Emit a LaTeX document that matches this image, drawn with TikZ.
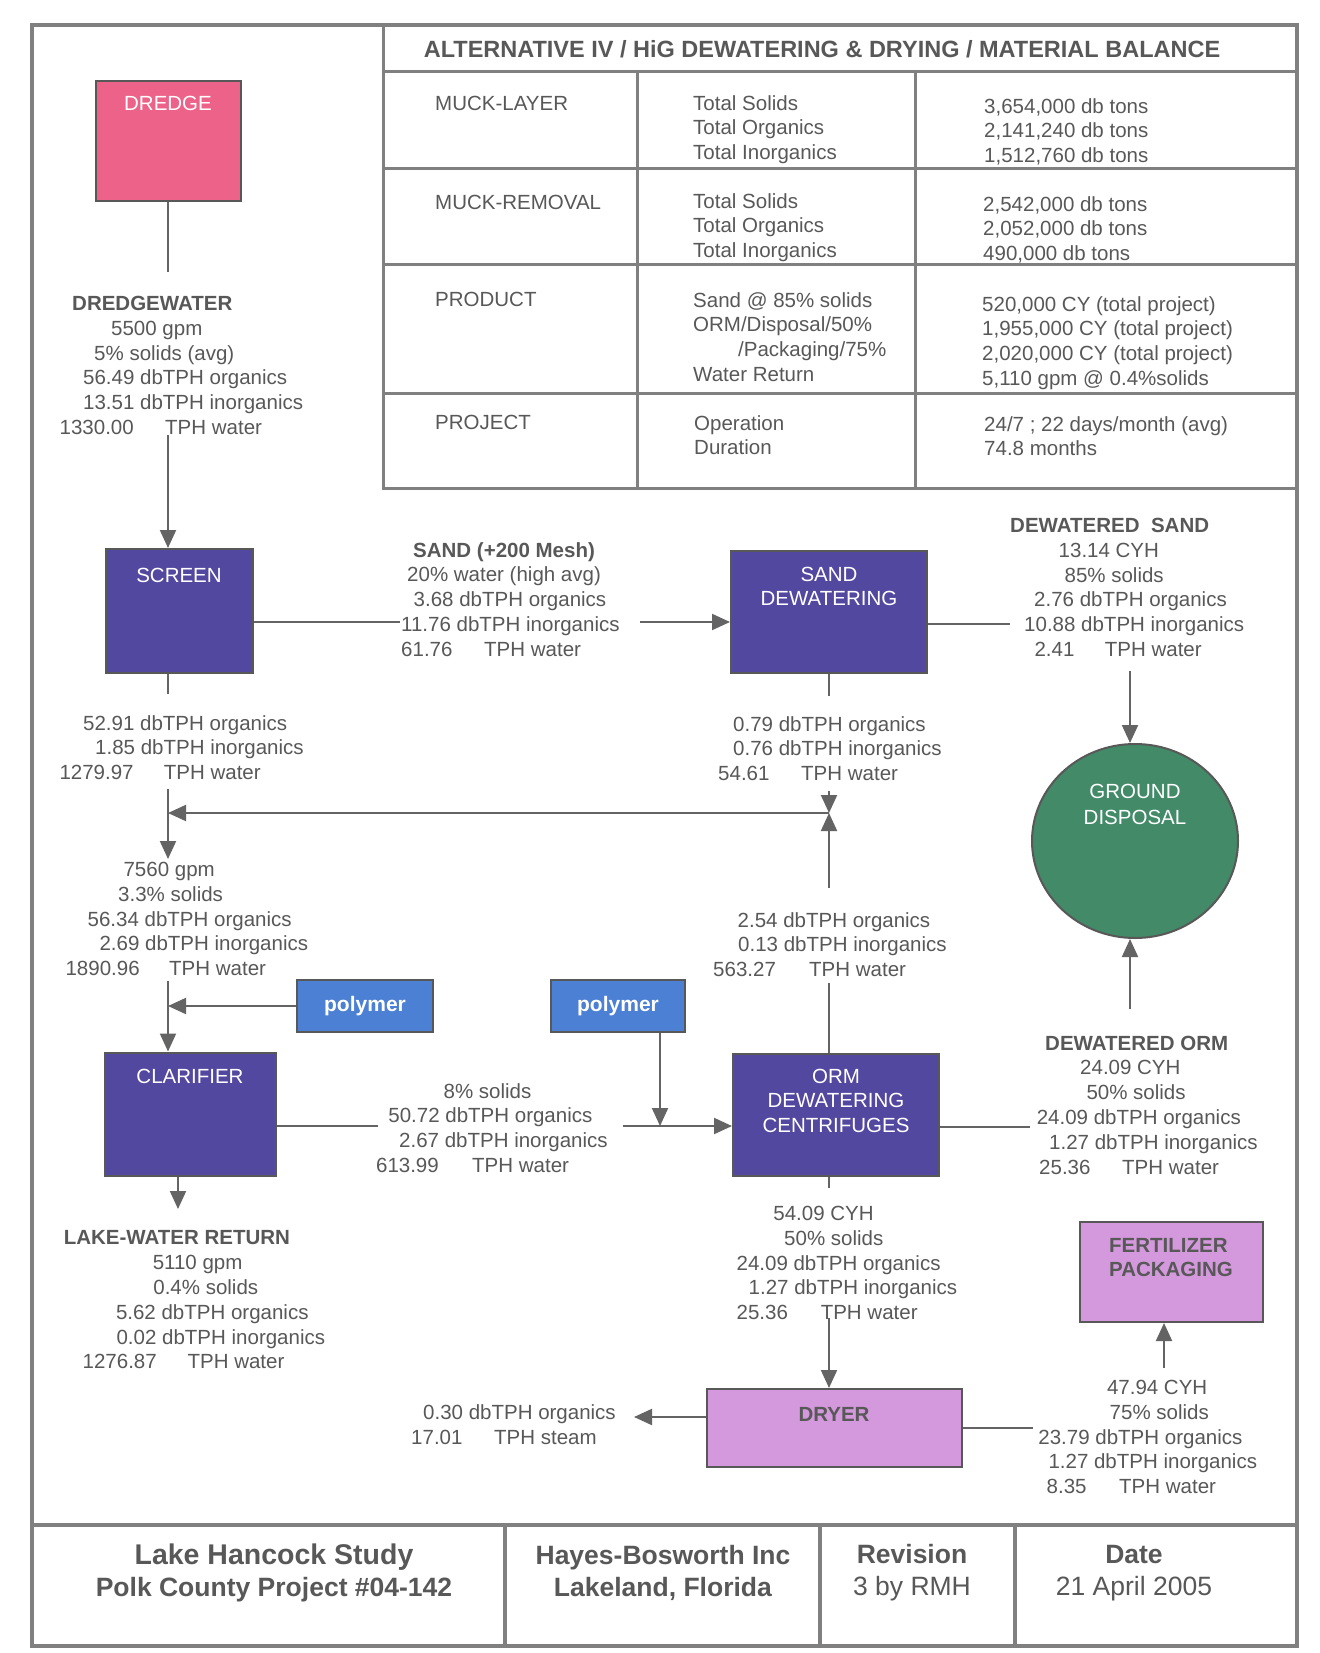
\documentclass[tikz,border=0pt]{standalone}
\usepackage{fontspec}
\setmainfont{Liberation Sans}
\usetikzlibrary{positioning,shapes.geometric,arrows.meta}

\definecolor{ink}{RGB}{88,88,88}
\definecolor{wire}{RGB}{100,100,100}
\definecolor{rulegray}{RGB}{128,128,128}
\definecolor{dredgepink}{RGB}{236,98,136}
\definecolor{procblue}{RGB}{82,72,160}
\definecolor{polyblue}{RGB}{76,128,212}
\definecolor{groundgreen}{RGB}{66,138,104}
\definecolor{dryerlilac}{RGB}{212,152,220}

\tikzset{
  frameline/.style={draw=rulegray, line width=4pt},
  tableline/.style={draw=rulegray, line width=3pt},
  flowline/.style={draw=wire, line width=2pt},
  unitbox/.style={draw=ink, line width=2pt, fill=#1, inner sep=0pt},
  unitlabel/.style={text=white, font=\fontsize{20.5}{24.5}\selectfont, align=center, inner sep=0pt},
  darklabel/.style={text=ink, font=\bfseries\fontsize{20.5}{24.5}\selectfont, align=left, inner sep=0pt},
  flowtext/.style={text=ink, font=\fontsize{20.5}{24.8}\selectfont, align=left, inner sep=0pt, anchor=north west},
  celltext/.style={text=ink, font=\fontsize{20.5}{24.8}\selectfont, inner sep=0pt, anchor=west},
  foottext/.style={text=ink, font=\fontsize{26.5}{32}\selectfont, align=center, inner sep=0pt},
}

\begin{document}
\begin{tikzpicture}[x=1pt, y=-1pt, >={Triangle[length=18pt,width=16pt]}]
\useasboundingbox (0,0) rectangle (1319,1653);
\fill[white] (0,0) rectangle (1319,1653);

% sheet frame and title block
\draw[frameline] (32,25) rectangle (1297,1646);
\draw[frameline] (32,1525) -- (1297,1525);
\draw[frameline] (505,1525) -- (505,1646);
\draw[frameline] (820,1525) -- (820,1646);
\draw[frameline] (1015,1525) -- (1015,1646);

\node[foottext] (study) at (274,1573) {\textbf{\fontsize{28.5}{32}\selectfont Lake Hancock Study}\\\textbf{Polk County Project \#04-142}};
\node[foottext] (firm)  at (663,1573) {\textbf{Hayes-Bosworth Inc}\\\textbf{Lakeland, Florida}};
\node[foottext] (rev)   at (912,1573) {\textbf{Revision}\\3 by RMH};
\node[foottext] (date)  at (1134,1573) {\textbf{Date}\\21 April 2005};

% material balance table
\draw[tableline] (383,25) -- (383,488) -- (1297,488);
\draw[tableline] (383,72) -- (1297,72);
\draw[tableline] (383,169) -- (1297,169);
\draw[tableline] (383,264.5) -- (1297,264.5);
\draw[tableline] (383,393) -- (1297,393);
\draw[tableline] (637,72) -- (637,488);
\draw[tableline] (915,72) -- (915,488);

\node[text=ink, font=\bfseries\fontsize{23.5}{28}\selectfont, inner sep=0pt] (tabtitle) at (822,49) {ALTERNATIVE IV / HiG DEWATERING \& DRYING / MATERIAL BALANCE};

\node[celltext] (mucklayer) at (435,103) {MUCK-LAYER};
\node[flowtext] (mucklayertot) at (693,95) {Total Solids\\Total Organics\\Total Inorganics};
\node[flowtext] (mucklayerval) at (984,98) {3,654,000 db tons\\2,141,240 db tons\\1,512,760 db tons};

\node[celltext] (muckremoval) at (435,202) {MUCK-REMOVAL};
\node[flowtext] (muckremovaltot) at (693,193) {Total Solids\\Total Organics\\Total Inorganics};
\node[flowtext] (muckremovalval) at (983,196) {2,542,000 db tons\\2,052,000 db tons\\490,000 db tons};

\node[celltext] (product) at (435,299) {PRODUCT};
\node[flowtext] (producttot) at (693,292) {Sand @ 85\% solids\\ORM/Disposal/50\%\\\hspace*{45pt}/Packaging/75\%\\Water Return};
\node[flowtext] (productval) at (982,296) {520,000 CY (total project)\\1,955,000 CY (total project)\\2,020,000 CY (total project)\\5,110 gpm @ 0.4\%solids};

\node[celltext] (project) at (435,422) {PROJECT};
\node[flowtext] (projecttot) at (694,415) {Operation\\Duration};
\node[flowtext] (projectval) at (984,416) {24/7 ; 22 days/month (avg)\\74.8 months};

% process units
\node[unitbox=dredgepink, minimum width=145pt, minimum height=120pt] (dredge) at (168,141) {};
\node[unitlabel, below=15.6pt of dredge.north] (dredgelbl) {DREDGE};

\node[unitbox=procblue, minimum width=147pt, minimum height=124pt] (screen) at (179,611) {};
\node[unitlabel, below=19.6pt of screen.north] (screenlbl) {SCREEN};

\node[unitbox=procblue, minimum width=196pt, minimum height=122pt] (sanddew) at (829,612) {};
\node[unitlabel, below=16.6pt of sanddew.north] (sanddewlbl) {SAND\\DEWATERING};

\node[unitbox=groundgreen, ellipse, minimum width=206pt, minimum height=194pt] (ground) at (1135,841) {};
\node[unitlabel, font=\fontsize{20.5}{26}\selectfont, below=40.6pt of ground.north] (groundlbl) {GROUND\\DISPOSAL};

\node[unitbox=polyblue, minimum width=136pt, minimum height=52pt, text=white, font=\bfseries\fontsize{21}{25}\selectfont] (poly1) at (365,1006) {polymer};
\node[unitbox=polyblue, minimum width=134pt, minimum height=52pt, text=white, font=\bfseries\fontsize{21}{25}\selectfont] (poly2) at (618,1006) {polymer};

\node[unitbox=procblue, minimum width=171pt, minimum height=123pt] (clar) at (190,1114) {};
\node[unitlabel, below=17.6pt of clar.north] (clarlbl) {CLARIFIER};

\node[unitbox=procblue, minimum width=206pt, minimum height=122pt] (ormc) at (836,1115) {};
\node[unitlabel, below=15.6pt of ormc.north] (ormclbl) {ORM\\DEWATERING\\CENTRIFUGES};

\node[unitbox=dryerlilac, minimum width=255pt, minimum height=78pt] (dryer) at (834,1428) {};
\node[darklabel, below=19.6pt of dryer.north] (dryerlbl) {DRYER};

\node[unitbox=dryerlilac, minimum width=183pt, minimum height=100pt] (fert) at (1171,1272) {};
\node[darklabel, below=17pt of fert.north] (fertlbl) {FERTILIZER\\PACKAGING};

% stream data
\node[flowtext] (dwtxt) at (59.5,296) {\hspace*{12.5pt}\textbf{DREDGEWATER}\\\hspace*{51.5pt}5500 gpm\\\hspace*{34.5pt}5\% solids (avg)\\\hspace*{23.5pt}56.49 dbTPH organics\\\hspace*{23.5pt}13.51 dbTPH inorganics\\\makebox[105.5pt][l]{1330.00}TPH water};
\node[flowtext] (sandtxt) at (401,542) {\hspace*{12pt}\textbf{SAND (+200 Mesh)}\\\hspace*{6pt}20\% water (high avg)\\\hspace*{12.5pt}3.68 dbTPH organics\\11.76 dbTPH inorganics\\\makebox[83pt][l]{61.76}TPH water};
\node[flowtext] (dsandtxt) at (1010,518) {\textbf{DEWATERED\ \ SAND}\\\hspace*{48.5pt}13.14 CYH\\\hspace*{54.4pt}85\% solids\\\hspace*{24pt}2.76 dbTPH organics\\\hspace*{14pt}10.88 dbTPH inorganics\\\hspace*{24.3pt}\makebox[70.4pt][l]{2.41}TPH water};
\node[flowtext] (sdwatertxt) at (718,716) {\hspace*{15pt}0.79 dbTPH organics\\\hspace*{15pt}0.76 dbTPH inorganics\\\makebox[83pt][l]{54.61}TPH water};
\node[flowtext] (scrwatertxt) at (59.3,715) {\hspace*{23.7pt}52.91 dbTPH organics\\\hspace*{35.7pt}1.85 dbTPH inorganics\\\makebox[104.4pt][l]{1279.97}TPH water};
\node[flowtext] (mixtxt) at (65.4,862) {\hspace*{58pt}7560 gpm\\\hspace*{52.6pt}3.3\% solids\\\hspace*{22.1pt}56.34 dbTPH organics\\\hspace*{34pt}2.69 dbTPH inorganics\\\makebox[103.6pt][l]{1890.96}TPH water};
\node[flowtext] (ormwatertxt) at (713,912) {\hspace*{24.5pt}2.54 dbTPH organics\\\hspace*{25pt}0.13 dbTPH inorganics\\\makebox[96pt][l]{563.27}TPH water};
\node[flowtext] (sludgetxt) at (375.9,1083) {\hspace*{67.5pt}8\% solids\\\hspace*{12.3pt}50.72 dbTPH organics\\\hspace*{23.1pt}2.67 dbTPH inorganics\\\makebox[96.1pt][l]{613.99}TPH water};
\node[flowtext] (dormtxt) at (1036.6,1035.5) {\hspace*{8.4pt}\textbf{DEWATERED ORM}\\\hspace*{43.4pt}24.09 CYH\\\hspace*{49.7pt}50\% solids\\24.09 dbTPH organics\\\hspace*{12.4pt}1.27 dbTPH inorganics\\\hspace*{2.4pt}\makebox[83pt][l]{25.36}TPH water};
\node[flowtext] (ormsolidtxt) at (736.4,1206) {\hspace*{36.8pt}54.09 CYH\\\hspace*{47.6pt}50\% solids\\24.09 dbTPH organics\\\hspace*{12.1pt}1.27 dbTPH inorganics\\\makebox[84.2pt][l]{25.36}TPH water};
\node[flowtext] (steamtxt) at (411,1404.5) {\hspace*{12pt}0.30 dbTPH organics\\\makebox[83pt][l]{17.01}TPH steam};
\node[flowtext] (drysolidtxt) at (1038.2,1380) {\hspace*{68.6pt}47.94 CYH\\\hspace*{71.3pt}75\% solids\\23.79 dbTPH organics\\\hspace*{10.1pt}1.27 dbTPH inorganics\\\hspace*{8.3pt}\makebox[72.5pt][l]{8.35}TPH water};
\node[flowtext] (laketxt) at (63.6,1230.5) {\textbf{LAKE-WATER RETURN}\\\hspace*{89pt}5110 gpm\\\hspace*{89.6pt}0.4\% solids\\\hspace*{52.2pt}5.62 dbTPH organics\\\hspace*{52.8pt}0.02 dbTPH inorganics\\\hspace*{18.9pt}\makebox[104.9pt][l]{1276.87}TPH water};

% connector ends
\coordinate (dredgeout) at (168,272);
\coordinate (dwout) at (168,435);
\coordinate (sandin) at (400,622);
\coordinate (sandout) at (640,622);
\coordinate (dsandin) at (1010,624);
\coordinate (dsandout) at (1130,671);
\coordinate (sdunder) at (829,696);
\coordinate (sdwater) at (829,791);
\coordinate (recycle) at (829,813);
\coordinate (ormwater) at (829,888);
\coordinate (ormtop) at (829,983);
\coordinate (scrunder) at (168,694);
\coordinate (scrwater) at (168,789);
\coordinate (mixin) at (168,859);
\coordinate (mixout) at (168,981);
\coordinate (lakeret) at (178,1209);
\coordinate (sludgein) at (378,1126);
\coordinate (sludgeout) at (623,1126);
\coordinate (polyin) at (660,1126);
\coordinate (dormin) at (1030,1127);
\coordinate (dormout) at (1130,1009);
\coordinate (ormunder) at (829,1188);
\coordinate (dryerin) at (829,1318);
\coordinate (steam) at (634,1417);
\coordinate (drysolid) at (1033,1428);
\coordinate (fertin) at (1164,1368);

% streams
\draw[flowline] (dredge.south) -- (dredgeout);
\draw[flowline,->] (dwout) -- (dwout |- screen.north);
\draw[flowline] (screen.east |- sandin) -- (sandin);
\draw[flowline,->] (sandout) -- (sanddew.west |- sandout);
\draw[flowline] (sanddew.east |- dsandin) -- (dsandin);
\draw[flowline,->] (dsandout) -- (dsandout |- ground.north);
\draw[flowline] (sanddew.south -| sdunder) -- (sdunder);
\draw[flowline,->] (sdwater) -- (recycle);
\draw[flowline,->] (ormwater) -- (recycle);
\draw[flowline,->] (recycle) -- (recycle -| dredge);
\draw[flowline] (screen.south -| dredge) -- (scrunder);
\draw[flowline,->] (scrwater) -- (mixin);
\draw[flowline,->] (mixout) -- (mixout |- clar.north);
\draw[flowline,->] (poly1.west) -- (poly1.west -| dredge);
\draw[flowline,->] (clar.south -| lakeret) -- (lakeret);
\draw[flowline] (clar.east |- sludgein) -- (sludgein);
\draw[flowline,->] (sludgeout) -- (ormc.west |- sludgeout);
\draw[flowline,->] (poly2.south -| polyin) -- (polyin);
\draw[flowline] (ormc.north -| ormtop) -- (ormtop);
\draw[flowline] (ormc.east |- dormin) -- (dormin);
\draw[flowline,->] (dormout) -- (dormout |- ground.south);
\draw[flowline] (ormc.south -| ormunder) -- (ormunder);
\draw[flowline,->] (dryerin) -- (dryerin |- dryer.north);
\draw[flowline,->] (dryer.west |- steam) -- (steam);
\draw[flowline] (dryer.east) -- (drysolid);
\draw[flowline,->] (fertin) -- (fertin |- fert.south);

\end{tikzpicture}
\end{document}
